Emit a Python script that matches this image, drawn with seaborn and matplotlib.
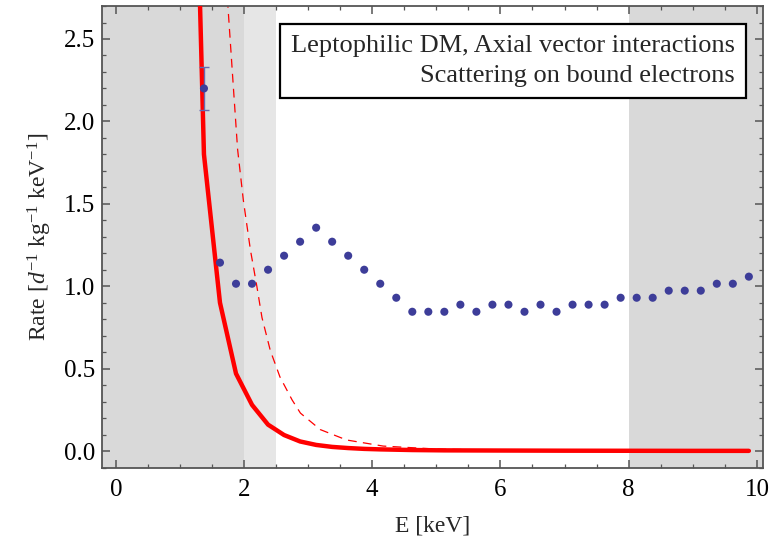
import matplotlib
matplotlib.use("Agg")
import matplotlib.pyplot as plt
import seaborn as sns
import pandas as pd
from matplotlib.ticker import MultipleLocator, FormatStrFormatter

# ================= DATA =================
# measured rate per 0.25 keV bin (bin centres)
energy = [1.375, 1.625, 1.875, 2.125, 2.375, 2.625, 2.875, 3.125, 3.375, 3.625,
          3.875, 4.125, 4.375, 4.625, 4.875, 5.125, 5.375, 5.625, 5.875, 6.125,
          6.375, 6.625, 6.875, 7.125, 7.375, 7.625, 7.875, 8.125, 8.375, 8.625,
          8.875, 9.125, 9.375, 9.625, 9.875]
rate = [2.20, 1.143, 1.015, 1.015, 1.10, 1.185, 1.27, 1.355, 1.27, 1.185,
        1.10, 1.015, 0.93, 0.845, 0.845, 0.845, 0.888, 0.845, 0.888, 0.888,
        0.845, 0.888, 0.845, 0.888, 0.888, 0.888, 0.93, 0.93, 0.93, 0.973,
        0.973, 0.973, 1.015, 1.015, 1.058]
rate_err = [0.128] + [0.0] * (len(energy) - 1)

# predicted rate, thick solid curve
pred_e = [1.125, 1.375, 1.625, 1.875, 2.125, 2.375, 2.625, 2.875, 3.125, 3.375,
          3.625, 3.875, 4.125, 4.375, 4.625, 4.875, 5.125, 6.0, 7.0, 8.0, 9.0, 9.875]
pred_rate = [5.5, 1.80, 0.90, 0.47, 0.28, 0.16, 0.097, 0.058, 0.037, 0.025,
             0.018, 0.013, 0.010, 0.008, 0.006, 0.005, 0.004, 0.003, 0.002, 0.0015, 0.001, 0.001]

# second prediction, thin dashed curve
alt_e = [1.70, 1.74, 1.83, 1.90, 1.99, 2.10, 2.20, 2.28, 2.41, 2.56, 2.75, 2.88,
         3.19, 3.60, 4.17, 5.0, 6.0, 8.0, 9.875]
alt_rate = [3.0, 2.75, 2.23, 1.83, 1.52, 1.22, 1.00, 0.81, 0.61, 0.45, 0.31, 0.23,
            0.13, 0.067, 0.03, 0.012, 0.005, 0.002, 0.001]

# shaded energy ranges (start, end, colour)
bands = [(-0.21, 2.0, "#d9d9d9"), (2.0, 2.5, "#e6e6e6"), (8.0, 10.09, "#d9d9d9")]

INFO_TEXT = "Leptophilic DM, Axial vector interactions\nScattering on bound electrons"

# ================= PLOTTING =================
sns.set_theme(style="ticks")
plt.rcParams["font.family"] = ["Liberation Serif", "DejaVu Serif"]
plt.rcParams["mathtext.fontset"] = "custom"
plt.rcParams["mathtext.rm"] = "Liberation Serif"
plt.rcParams["mathtext.it"] = "Liberation Serif:italic"

fig = plt.figure(figsize=(7.83, 5.38), dpi=100)
ax = fig.add_axes([0.1307, 0.1295, 0.974 - 0.1307, 0.9888 - 0.1295])

for lo, hi, col in bands:
    ax.axvspan(lo, hi, color=col, lw=0, zorder=0)

df_data = pd.DataFrame({"E": energy, "Rate": rate, "err": rate_err})
df_pred = pd.DataFrame({"E": pred_e, "Rate": pred_rate})
df_alt = pd.DataFrame({"E": alt_e, "Rate": alt_rate})

sns.lineplot(data=df_alt, x="E", y="Rate", ax=ax, color="#ff0000", lw=0.9,
             linestyle=(0, (7, 5)), zorder=2)
sns.lineplot(data=df_pred, x="E", y="Rate", ax=ax, color="#ff0000", lw=3.2, zorder=3)

has_err = df_data[df_data["err"] > 0]
ax.errorbar(has_err["E"], has_err["Rate"], yerr=has_err["err"], fmt="none",
            ecolor="#6868b0", elinewidth=1.0, capsize=3.5, capthick=1.0, zorder=4)
sns.scatterplot(data=df_data, x="E", y="Rate", ax=ax, color="#3d3d99", s=34,
                edgecolor="none", zorder=5)

ax.set_xlim(-0.21, 10.09)
ax.set_ylim(-0.105, 2.70)
ax.xaxis.set_major_locator(MultipleLocator(2))
ax.xaxis.set_minor_locator(MultipleLocator(0.5))
ax.yaxis.set_major_locator(MultipleLocator(0.5))
ax.yaxis.set_minor_locator(MultipleLocator(0.1))
ax.yaxis.set_major_formatter(FormatStrFormatter("%.1f"))

frame = "#555555"
for sp in ax.spines.values():
    sp.set_visible(True)
    sp.set_color(frame)
    sp.set_linewidth(1.3)
ax.tick_params(which="both", direction="in", top=True, right=True, color=frame,
               labelsize=18, labelcolor="black")
ax.tick_params(which="major", length=6, width=1.1)
ax.tick_params(which="minor", length=3, width=0.9)
ax.tick_params(axis="x", which="major", pad=8)
ax.tick_params(axis="y", which="major", pad=5)

ax.set_xlabel("E [keV]", fontsize=17, labelpad=10)
ax.set_ylabel(r"Rate [$d^{-1}$ kg$^{-1}$ keV$^{-1}$]", fontsize=17, labelpad=7)

ax.text(0.958, 0.937, INFO_TEXT, transform=ax.transAxes, ha="right", va="top",
        multialignment="right", fontsize=19, linespacing=1.45, zorder=6,
        bbox=dict(boxstyle="square,pad=0.42", facecolor="white",
                  edgecolor="black", linewidth=1.6))

fig.savefig("out.png", dpi=100)
